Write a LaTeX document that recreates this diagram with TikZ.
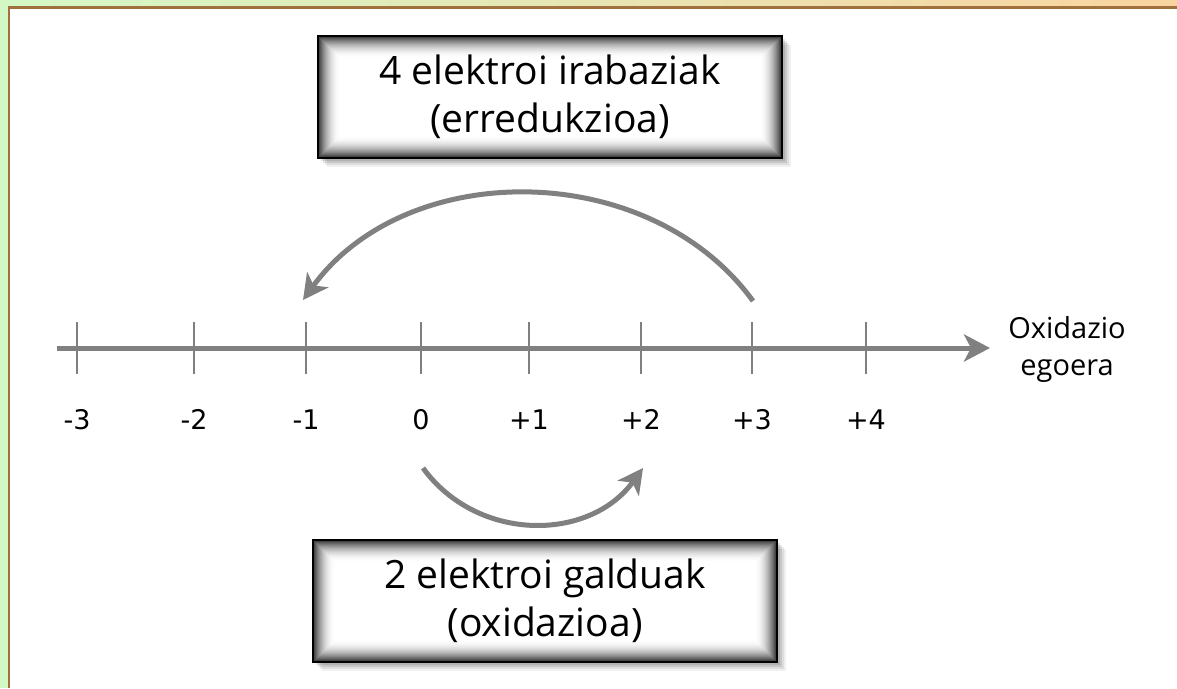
\documentclass[tikz,border=0pt]{standalone}
\usepackage{fontspec}
\setmainfont{Open Sans}
\newfontfamily\numfont{DejaVu Sans}
\usetikzlibrary{arrows.meta}
\definecolor{axisgray}{RGB}{128,128,128}
\definecolor{leftgreen}{RGB}{212,247,198}
\definecolor{toporange}{RGB}{250,212,160}
\definecolor{framebrown}{RGB}{160,112,62}
\tikzset{
  glowbox/.style={draw=black, line width=2.5pt, minimum width=464pt, minimum height=122pt,
    align=center, font=\fontsize{39}{48}\selectfont, inner sep=0pt,
    preaction={fill=black, opacity=.10, transform canvas={xshift=3pt, yshift=-3pt}},
    preaction={fill=black, opacity=.10, transform canvas={xshift=5pt, yshift=-5pt}},
    preaction={fill=black, opacity=.08, transform canvas={xshift=7pt, yshift=-7pt}},
    preaction={fill=black, opacity=.06, transform canvas={xshift=9pt, yshift=-9pt}},
    path picture={
      \foreach \i in {0,...,22}{
        \pgfmathsetmacro\c{80*(1-\i/22)^2}
        \fill[black!\c] ([shift={(\i pt,-\i pt)}]path picture bounding box.north west)
          rectangle ([shift={(-\i pt,\i pt)}]path picture bounding box.south east);
      }
    }},
  axisline/.style={draw=axisgray, line width=5pt, -{Stealth[length=26pt, width=27pt, inset=7pt]}},
  tickline/.style={draw=axisgray, line width=2.6pt},
  arcline/.style={draw=axisgray, line width=5pt, -{Stealth[length=25pt, width=26pt, inset=7pt]}},
  numlabel/.style={font=\numfont\fontsize{27}{32}\selectfont, anchor=base},
  axislabel/.style={font=\fontsize{29}{37}\selectfont, align=center}
}
\begin{document}
\begin{tikzpicture}[x=1pt,y=-1pt]
\useasboundingbox (0,0) rectangle (1177,688);
% frame
\fill[white] (0,0) rectangle (1177,688);
\shade[left color=leftgreen, right color=toporange] (0,0) rectangle (1177,7);
\fill[leftgreen] (0,0) rectangle (8,688);
\draw[framebrown, line width=2.5pt] (9,688) -- (9,7.3) -- (1177,7.3);

% axis
\coordinate (axStart) at (57,348);
\coordinate (axEnd) at (990,348);
\draw[axisline] (axStart) -- (axEnd);
\foreach \name/\x/\lab in {m3/77/-3, m2/194/-2, m1/306/-1, z0/421/0, p1/529/+1, p2/641/+2, p3/752/+3, p4/866/+4}{
  \coordinate (t\name) at (\x,348);
  \draw[tickline] ([yshift=26pt]t\name) -- ([yshift=-26pt]t\name);
  \node[numlabel] (l\name) at (\x,429) {\lab};
}
\node[axislabel] (axlab) at (1067,349) {Oxidazio\\egoera};

% boxes
\node[glowbox] (redbox) at (550,97) {4 elektroi irabaziak\\(erredukzioa)};
\node[glowbox] (oxbox) at (545,601) {2 elektroi galduak\\(oxidazioa)};

% arcs
\coordinate (redStart) at (753,301);
\coordinate (redEnd) at (303,300);
\draw[arcline] (redStart) to[out=126, in=54, looseness=1.0] (redEnd);
\coordinate (oxStart) at (423,468);
\coordinate (oxEnd) at (643,468);
\draw[arcline] (oxStart) to[out=-54, in=234, looseness=1.07] (oxEnd);
\end{tikzpicture}
\end{document}
